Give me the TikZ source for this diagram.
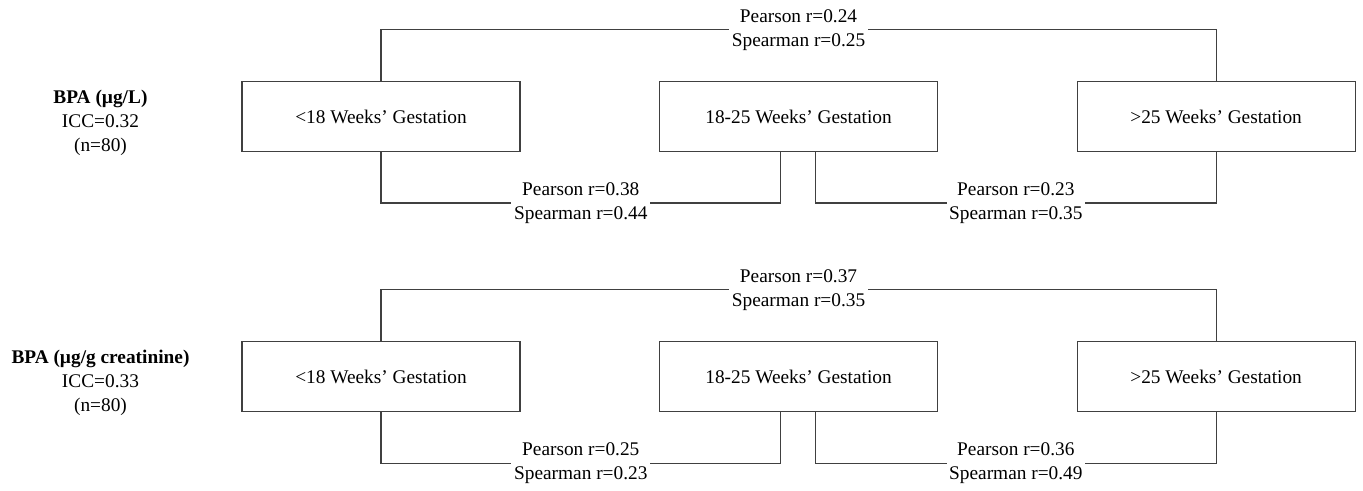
\documentclass[tikz,border=0pt]{standalone}
\usepackage{fontspec}
\setmainfont{Liberation Serif}
\usetikzlibrary{positioning}

\begin{document}
\begin{tikzpicture}[
			font=\fontsize{11}{13.6}\selectfont,
			period/.style={
				draw=black!75,
				rectangle,
				line width=0.6pt,
				minimum width=5.56cm,
				minimum height=1.4cm,
				align=center
			},
			corr/.style={
				fill=white,
				inner sep=1.5pt,
				align=center
			},
			group/.style={
				align=center
			},
			link/.style={
				draw=black!75,
				line width=0.6pt
			}
			]
			\useasboundingbox (-7.62,2.33) rectangle (19.64,-7.49);
			
			% Nodes (BPA per litre)
			\node[period] (lt) at (0,0) {<18 Weeks’ Gestation};
			\node[period, right=2.77cm of lt] (mt) {18-25 Weeks’ Gestation};
			\node[period, right=2.77cm of mt] (rt) {>25 Weeks’ Gestation};
			\node[group] (gt) at ([xshift=-2.82cm, yshift=-0.13cm]lt.west) {\textbf{BPA (µg/L)}\\ICC=0.32\\(n=80)};
			
			% Nodes (BPA per creatinine)
			\node[period] (lb) at (0,-5.2) {<18 Weeks’ Gestation};
			\node[period, right=2.77cm of lb] (mb) {18-25 Weeks’ Gestation};
			\node[period, right=2.77cm of mb] (rb) {>25 Weeks’ Gestation};
			\node[group] (gb) at ([xshift=-2.82cm, yshift=-0.13cm]lb.west) {\textbf{BPA (µg/g creatinine)}\\ICC=0.33\\(n=80)};
			
			% Connectors
			\draw[link] (lt.north) -- ++(0,1.02) -| node[corr, pos=0.25] {Pearson r=0.24\\Spearman r=0.25} (rt.north);
			\draw[link] (lt.south) -- ++(0,-1.02) -| node[corr, pos=0.25] {Pearson r=0.38\\Spearman r=0.44} ([xshift=-0.36cm]mt.south);
			\draw[link] ([xshift=0.34cm]mt.south) -- ++(0,-1.02) -| node[corr, pos=0.25] {Pearson r=0.23\\Spearman r=0.35} (rt.south);
			
			\draw[link] (lb.north) -- ++(0,1.02) -| node[corr, pos=0.25] {Pearson r=0.37\\Spearman r=0.35} (rb.north);
			\draw[link] (lb.south) -- ++(0,-1.02) -| node[corr, pos=0.25] {Pearson r=0.25\\Spearman r=0.23} ([xshift=-0.36cm]mb.south);
			\draw[link] ([xshift=0.34cm]mb.south) -- ++(0,-1.02) -| node[corr, pos=0.25] {Pearson r=0.36\\Spearman r=0.49} (rb.south);
			
		\end{tikzpicture}
\end{document}
